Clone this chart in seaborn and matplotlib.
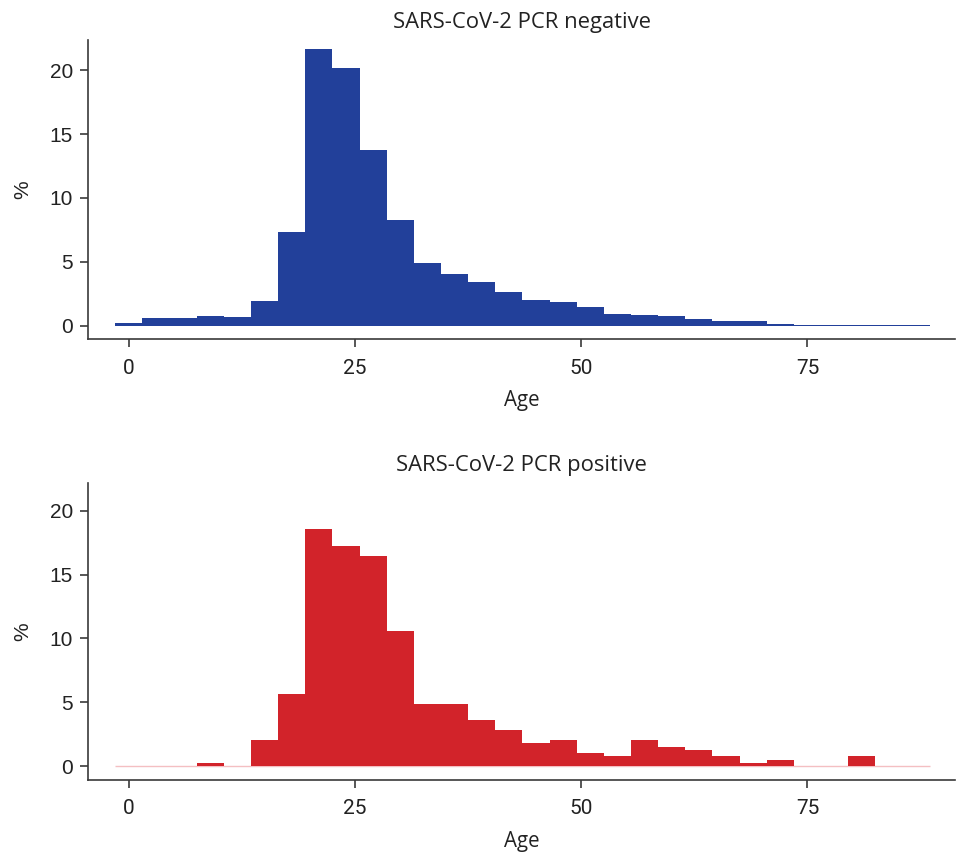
import numpy as np
import pandas as pd
import matplotlib
matplotlib.use("Agg")
import matplotlib.pyplot as plt
import seaborn as sns

# ---- data ----
bin_start = -1.5
bin_width = 3.0
n_bins = 30
neg_pct = [0.21, 0.60, 0.60, 0.76, 0.68, 1.93, 7.34, 21.67, 20.18, 13.76,
           8.28, 4.91, 4.05, 3.42, 2.64, 2.01, 1.86, 1.46, 0.92, 0.84,
           0.76, 0.52, 0.37, 0.37, 0.13, 0.08, 0.08, 0.08, 0.08, 0.08]
pos_pct = [0.0, 0.0, 0.0, 0.26, 0.0, 2.06, 5.66, 18.57, 17.24, 16.46,
           10.59, 4.88, 4.88, 3.62, 2.85, 1.85, 2.09, 1.07, 0.84, 2.09,
           1.54, 1.31, 0.84, 0.29, 0.52, 0.0, 0.0, 0.84, 0.0, 0.0]
titles = ["SARS-CoV-2 PCR negative", "SARS-CoV-2 PCR positive"]
x_ticks = [0, 25, 50, 75]
y_ticks = [0, 5, 10, 15, 20]

edges = bin_start + bin_width * np.arange(n_bins + 1)
centers = edges[:-1] + bin_width / 2

sns.set_theme(style="ticks")
plt.rcParams['font.family'] = ['Liberation Sans', 'DejaVu Sans']

fig = plt.figure(figsize=(9.6, 8.52), dpi=100)
ax1 = fig.add_axes([0.0917, 0.6018, 0.9031, 0.3512])
ax2 = fig.add_axes([0.0917, 0.0849, 0.9031, 0.3479])

title_font = ['Open Sans', 'Noto Sans', 'DejaVu Sans']
spine_col = "#3a3a3a"

for ax, vals, color, title, ylim in [
    (ax1, neg_pct, "#22409A", titles[0], (-1.07, 22.37)),
    (ax2, pos_pct, "#D2232A", titles[1], (-1.05, 22.15)),
]:
    df = pd.DataFrame({"age": centers, "pct": vals})
    if ax is ax2:
        ax.hlines(0, edges[0], edges[-1], color="#F4BFC2", lw=1.0, zorder=0)
    sns.histplot(data=df, x="age", weights="pct", binwidth=bin_width,
                 binrange=(float(edges[0]), float(edges[-1])), stat="count",
                 color=color, alpha=1.0, linewidth=0, edgecolor="none", ax=ax)
    ax.set_xlim(-4.5, 91.3)
    ax.set_ylim(*ylim)
    ax.set_xticks(x_ticks)
    ax.set_yticks(y_ticks)
    ax.set_title(title, fontsize=15.8, family=title_font, pad=9, color="#222222")
    ax.set_xlabel("Age", fontsize=14.8, family=title_font, labelpad=9, color="#222222")
    ax.set_ylabel("%", fontsize=15, labelpad=12, color="#222222")
    for s in ["top", "right"]:
        ax.spines[s].set_visible(False)
    for s in ["left", "bottom"]:
        ax.spines[s].set_color(spine_col)
        ax.spines[s].set_linewidth(1.2)
    ax.tick_params(axis="both", length=6, width=1.2, color=spine_col,
                   labelsize=15, labelcolor="#222222")
    ax.tick_params(axis="x", pad=8)
    ax.tick_params(axis="y", pad=5)
    for lab in ax.get_xticklabels():
        lab.set_family(['Liberation Sans Narrow', 'Roboto', 'DejaVu Sans'])

fig.savefig("out.png", dpi=100)
